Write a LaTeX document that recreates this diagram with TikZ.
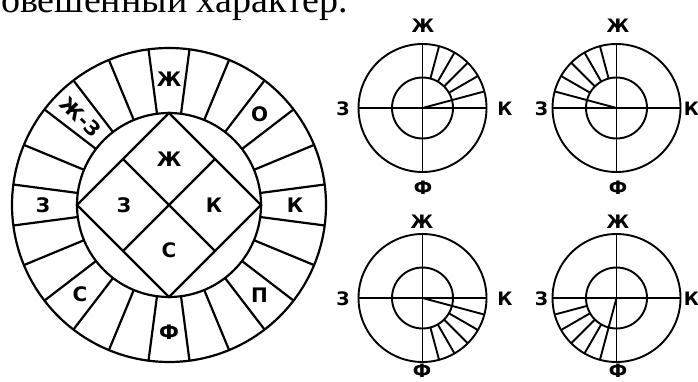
\documentclass[tikz,border=0pt]{standalone}
\usepackage{fontspec}
\setmainfont{Liberation Serif}
\newfontfamily\labelfont{DejaVu Sans}

\begin{document}
\begin{tikzpicture}[
  x=1pt, y=1pt,
  ring/.style={line width=2.2pt},
  dial/.style={line width=1.9pt},
  lbl/.style={font=\labelfont\bfseries\fontsize{20}{20}\selectfont, inner sep=0pt},
  dial lbl/.style={font=\labelfont\bfseries\fontsize{18.5}{18.5}\selectfont, inner sep=0pt}
]
\useasboundingbox (0,0) rectangle (698,381);
\clip (0,0) rectangle (698,381);

% cut-off line of text above the figure
\node[font=\fontsize{38}{38}\selectfont, anchor=base west, inner sep=0pt] (caption) at (1,368) {овешенный характер.};

% big wheel
\begin{scope}[shift={(169,176)}]
  \draw[ring] (0,0) circle[radius=157];
  \draw[ring] (0,0) circle[radius=92];
  \foreach \a in {0,...,23}
    \draw[ring] (7.5+15*\a:92) -- (7.5+15*\a:157);
  \draw[ring] (0,92) -- (92,0) -- (0,-92) -- (-92,0) -- cycle;
  \draw[ring] (-46,46) -- (46,-46);
  \draw[ring] (46,46) -- (-46,-46);
  % diamond
  \node[lbl] (inZh) at (0,46) {Ж};
  \node[lbl] (inZ) at (-45,0) {З};
  \node[lbl] (inK) at (45,0) {К};
  \node[lbl] (inS) at (0,-45) {С};
  % ring
  \node[lbl] (rZh) at (90:126) {Ж};
  \node[lbl] (rO) at (45:128) {О};
  \node[lbl] (rK) at (0:126) {К};
  \node[lbl] (rP) at (-45:128) {П};
  \node[lbl] (rF) at (-90:127) {Ф};
  \node[lbl] (rS) at (-135:126) {С};
  \node[lbl] (rZ) at (180:126) {З};
  \node[lbl, rotate=-45] (rZhZ) at (135:125) {Ж-З};
\end{scope}

% four small dials: centre, line from the centre, spokes of the ring
\foreach \cx/\cy/\ln/\sp in {422.5/273/15/{30,45,60,75},
                            616.5/273/165/{105,120,135,150},
                            422.5/83/-15/{-30,-45,-60,-75},
                            616.5/83/255/{195,210,225,240}} {
  \begin{scope}[shift={(\cx,\cy)}]
    \draw[dial] (0,0) circle[radius=64];
    \draw[dial] (0,0) circle[radius=30.5];
    \draw[dial] (-64,0) -- (64,0);
    \draw[dial] (0,-64) -- (0,64);
    \draw[dial] (0,0) -- (\ln:64);
    \foreach \s in \sp
      \draw[dial] (\s:30.5) -- (\s:64);
  \end{scope}
}

% dial labels
\node[dial lbl] (tlZh) at (423,355) {Ж};
\node[dial lbl] (tlF) at (423,193.5) {Ф};
\node[dial lbl] (tlZ) at (343,272) {З};
\node[dial lbl] (tlK) at (505,272) {К};
\node[dial lbl] (trZh) at (618,355) {Ж};
\node[dial lbl] (trF) at (618,193.5) {Ф};
\node[dial lbl] (trZ) at (541.5,272) {З};
\node[dial lbl] (trK) at (691.5,272) {К};
\node[dial lbl] (blZh) at (422,159.5) {Ж};
\node[dial lbl] (blF) at (422,10) {Ф};
\node[dial lbl] (blZ) at (343,82) {З};
\node[dial lbl] (blK) at (505,82) {К};
\node[dial lbl] (brZh) at (618,159.5) {Ж};
\node[dial lbl] (brF) at (618,10) {Ф};
\node[dial lbl] (brZ) at (541.5,82) {З};
\node[dial lbl] (brK) at (691.5,82) {К};
\end{tikzpicture}
\end{document}
